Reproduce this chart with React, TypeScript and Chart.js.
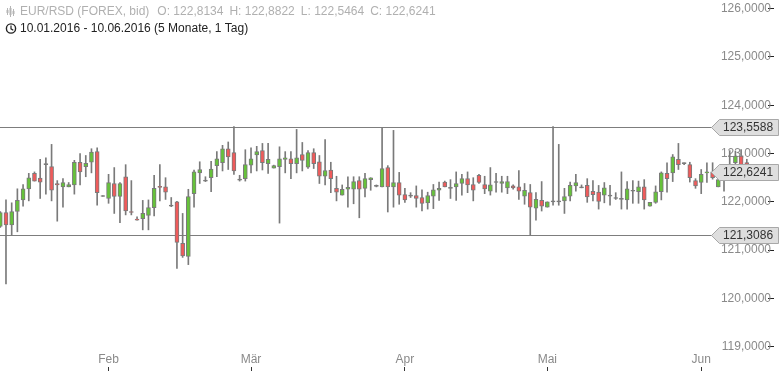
import React, { useEffect, useRef } from 'react';
import { Chart, registerables } from 'chart.js';
Chart.register(...registerables);

// ---- data (EUR/RSD daily candles, Sun–Fri, from 10.01.2016) ----
const START_DATE = '2016-01-10';
const opens = [121.49,121.78,121.52,121.80,122.04,122.27,122.59,122.49,122.77,122.73,122.38,122.31,122.31,122.35,122.82,122.73,122.82,123.04,122.11,122.07,122.38,122.11,122.52,121.80,121.64,121.65,121.72,121.88,122.31,122.31,121.91,122.00,121.14,120.87,122.17,122.60,122.43,122.50,122.75,122.81,123.10,123.02,122.45,122.48,122.76,122.97,123.06,122.79,122.70,122.73,122.88,122.89,122.79,122.98,122.72,123.02,122.83,122.53,122.66,122.28,122.14,122.26,122.26,122.44,122.28,122.46,122.32,122.31,122.71,122.31,122.40,122.15,122.12,122.13,122.09,121.98,122.12,122.24,122.41,122.28,122.31,122.38,122.48,122.36,122.55,122.36,122.22,122.40,122.38,122.29,122.33,122.31,122.12,122.19,121.87,122.03,121.89,122.00,122.00,122.02,122.12,122.33,122.29,122.34,122.22,122.20,122.14,122.12,122.07,122.05,122.04,122.22,122.21,122.31,121.91,121.99,122.21,122.59,122.60,122.88,122.79,122.77,122.44,122.40,122.60,122.62,122.31,122.50,122.60,122.81,122.95,122.8134];
const highs = [121.80,122.04,121.98,122.27,122.36,122.59,122.62,122.88,122.91,123.19,122.44,122.48,122.40,122.86,123.00,122.96,123.10,123.12,122.13,122.57,122.71,122.40,122.77,122.44,121.69,122.03,122.04,122.55,122.77,122.50,122.09,122.01,121.76,122.26,122.66,122.83,122.52,122.84,123.04,123.17,123.24,123.5588,122.55,123.08,123.12,123.15,123.21,123.21,122.76,123.14,123.04,123.04,123.50,123.23,123.06,123.10,122.96,123.29,122.82,122.53,122.35,122.52,122.52,122.52,122.59,122.50,122.35,123.52,122.75,123.48,122.61,122.28,122.19,122.33,122.25,122.20,122.36,122.41,122.43,122.46,122.62,122.57,122.62,122.50,122.57,122.53,122.71,122.59,122.53,122.53,122.35,122.65,122.38,122.36,122.19,122.42,122.00,123.5588,123.19,122.28,122.41,122.57,122.35,122.48,122.44,122.34,122.40,122.34,122.19,122.62,122.42,122.44,122.43,122.46,121.99,122.33,122.62,122.81,122.98,123.21,122.81,122.82,122.48,122.67,122.81,122.81,122.46,122.62,123.06,123.05,123.08,122.8822];
const lows = [121.47,120.30,121.31,121.38,121.91,122.02,122.43,122.07,122.16,122.02,121.60,121.89,122.31,122.16,122.35,122.52,122.60,121.93,122.11,121.97,121.76,121.57,121.73,121.73,121.62,121.42,121.42,121.71,122.02,122.05,121.90,120.62,120.85,120.70,121.89,122.38,122.42,122.21,122.52,122.64,122.67,122.57,122.43,122.43,122.60,122.64,122.66,122.59,122.70,121.56,122.60,122.48,122.60,122.64,122.69,122.69,122.38,122.35,122.19,122.02,122.14,121.89,121.96,121.67,122.10,122.24,122.31,122.31,121.79,121.89,121.95,121.99,122.09,121.89,121.81,121.85,121.86,122.03,122.31,122.07,122.03,122.14,122.19,122.02,122.38,122.17,122.14,122.20,122.20,122.17,122.26,122.05,121.95,121.3086,121.62,121.81,121.89,121.93,121.93,121.76,122.02,122.22,122.29,121.99,122.02,121.85,121.98,121.93,122.05,121.85,121.85,121.97,121.97,121.85,121.91,121.97,122.04,122.20,122.42,122.67,122.77,122.41,122.28,122.17,122.40,122.47,122.31,122.22,122.55,122.75,122.70,122.5464];
const closes = [121.78,121.52,121.80,122.03,122.27,122.50,122.43,122.41,122.77,122.24,122.35,122.40,122.36,122.82,122.62,122.80,123.03,122.19,122.11,122.40,122.11,122.38,121.81,121.78,121.62,121.76,121.88,122.28,122.30,122.20,121.91,121.16,120.88,122.11,122.62,122.67,122.43,122.68,122.89,123.10,122.93,122.64,122.45,122.77,122.89,123.04,122.81,122.88,122.75,122.89,122.91,122.79,122.91,122.86,123.02,122.79,122.53,122.65,122.48,122.20,122.26,122.30,122.42,122.26,122.48,122.50,122.32,122.69,122.31,122.40,122.14,122.04,122.12,122.07,121.97,122.13,122.25,122.28,122.31,122.28,122.38,122.48,122.35,122.24,122.40,122.27,122.35,122.40,122.42,122.42,122.29,122.22,122.24,121.89,122.05,121.91,122.00,122.00,122.00,122.11,122.34,122.40,122.29,122.10,122.15,122.01,122.29,122.12,122.07,122.05,122.27,122.22,122.31,122.04,121.99,122.21,122.60,122.48,122.93,122.77,122.79,122.50,122.33,122.57,122.62,122.50,122.46,122.55,122.75,122.95,122.77,122.6241];
const monthNames = ['Jan', 'Feb', 'Mär', 'Apr', 'Mai', 'Jun'];
const levels = [123.5588, 121.3086];
const titleText = 'EUR/RSD (FOREX, bid)';
const ohlcText = ['O: 122,8134', 'H: 122,8822', 'L: 122,5464', 'C: 122,6241'];
const rangeText = '10.01.2016 - 10.06.2016 (5 Monate, 1 Tag)';
const Y_MIN = 118.58;
const Y_MAX = 126.18;
const X_MIN = -0.05;
const X_MAX = 134.72;

const GREEN = '#66c23a';
const RED = '#ef5b5b';
const EDGE = '#7a7a7a';
const FONT = "'Liberation Sans', Arial, sans-serif";

function buildDates(n: number): Date[] {
  const out: Date[] = [];
  let t = Date.parse(START_DATE + 'T00:00:00Z');
  while (out.length < n) {
    const d = new Date(t);
    if (d.getUTCDay() !== 6) out.push(d);
    t += 86400000;
  }
  return out;
}

const fmt = (v: number) => v.toFixed(4).replace('.', ',');
const noPad = (s: any) => {
  s.paddingTop = 0;
  s.paddingBottom = 0;
  s.paddingLeft = 0;
  s.paddingRight = 0;
};

export default function App() {
  const ref = useRef<HTMLCanvasElement | null>(null);
  useEffect(() => {
    document.body.style.margin = '0';
    const dates = buildDates(opens.length);
    const monthTicks: { value: number; label: string }[] = [];
    for (let i = 1; i < dates.length; i++) {
      if (dates[i].getUTCMonth() !== dates[i - 1].getUTCMonth()) {
        monthTicks.push({ value: i, label: monthNames[dates[i].getUTCMonth()] });
      }
    }
    const bodyColor = (i: number) => {
      const o = opens[i], c = closes[i];
      if (Math.abs(o - c) < 0.005) return EDGE;
      return c > o ? GREEN : RED;
    };

    const overlay = {
      id: 'overlay',
      beforeDatasetsDraw(chart: any) {
        const ctx = chart.ctx;
        const y = chart.scales.y;
        ctx.save();
        ctx.strokeStyle = '#7d7d7d';
        ctx.lineWidth = 1;
        levels.forEach((lv) => {
          const py = Math.round(y.getPixelForValue(lv)) + 0.5;
          ctx.beginPath();
          ctx.moveTo(0, py);
          ctx.lineTo(712, py);
          ctx.stroke();
        });
        ctx.restore();
      },
      afterDatasetsDraw(chart: any) {
        const ctx = chart.ctx;
        const y = chart.scales.y;
        const tags = [...levels, closes[closes.length - 1]];
        ctx.save();
        tags.forEach((lv) => {
          const py = Math.round(y.getPixelForValue(lv)) + 0.5;
          const tip = 711.5, x0 = 719.5, x1 = 778.5, h = 8;
          ctx.beginPath();
          ctx.moveTo(tip, py);
          ctx.lineTo(x0, py - h);
          ctx.lineTo(x1, py - h);
          ctx.lineTo(x1, py + h);
          ctx.lineTo(x0, py + h);
          ctx.closePath();
          ctx.fillStyle = '#dedede';
          ctx.fill();
          ctx.strokeStyle = '#a8a8a8';
          ctx.lineWidth = 1;
          ctx.stroke();
          ctx.fillStyle = '#333333';
          ctx.font = `12px ${FONT}`;
          ctx.textAlign = 'left';
          ctx.textBaseline = 'middle';
          ctx.fillText(fmt(lv), 723, py + 0.5);
        });
        ctx.restore();
      },
      afterDraw(chart: any) {
        const ctx = chart.ctx;
        ctx.save();
        // candlestick icon
        ctx.strokeStyle = '#b5b5b5';
        ctx.fillStyle = '#b5b5b5';
        ctx.lineWidth = 1;
        [[7.5, 8, 15], [10.5, 6, 17], [13.5, 9, 16]].forEach(([x, a, b]) => {
          ctx.beginPath();
          ctx.moveTo(x, a);
          ctx.lineTo(x, b);
          ctx.stroke();
          ctx.fillRect(x - 1, a + 2, 2, (b - a) - 4);
        });
        ctx.font = `12px ${FONT}`;
        ctx.textBaseline = 'middle';
        ctx.textAlign = 'left';
        ctx.fillStyle = '#b0b0b0';
        ctx.fillText(titleText, 20, 12);
        let x = 20 + ctx.measureText(titleText).width + 8;
        ohlcText.forEach((t) => {
          ctx.fillText(t, x, 12);
          x += ctx.measureText(t).width + 6;
        });
        // clock icon
        ctx.strokeStyle = '#222';
        ctx.lineWidth = 1.4;
        ctx.beginPath();
        ctx.arc(11, 28.5, 4.6, 0, Math.PI * 2);
        ctx.stroke();
        ctx.lineWidth = 1.2;
        ctx.beginPath();
        ctx.moveTo(11, 25.5);
        ctx.lineTo(11, 28.8);
        ctx.lineTo(13.3, 30.3);
        ctx.stroke();
        ctx.fillStyle = '#222222';
        ctx.fillText(rangeText, 20, 28.5);
        ctx.restore();
      },
    };

    const chart = new Chart(ref.current as HTMLCanvasElement, {
      type: 'bar',
      data: {
        datasets: [
          {
            label: 'body',
            data: opens.map((o, i) => ({ x: i, y: [o, closes[i]] })) as any,
            backgroundColor: (c: any) => bodyColor(c.dataIndex),
            borderColor: EDGE,
            borderWidth: 1,
            borderSkipped: false,
            barThickness: 4,
            minBarLength: 1,
            grouped: false,
            order: 0,
          },
          {
            label: 'wick',
            data: lows.map((l, i) => ({ x: i, y: [l, highs[i]] })) as any,
            backgroundColor: EDGE,
            borderWidth: 0,
            barThickness: 1,
            grouped: false,
            order: 1,
          },
        ],
      },
      options: {
        animation: false,
        responsive: false,
        events: [],
        layout: { padding: 0 },
        plugins: { legend: { display: false }, tooltip: { enabled: false } },
        scales: {
          x: {
            type: 'linear',
            min: X_MIN,
            max: X_MAX,
            offset: false,
            position: 'bottom',
            afterFit: noPad,
            afterBuildTicks: (s: any) => {
              s.ticks = monthTicks.map((t) => ({ value: t.value }));
            },
            ticks: {
              mirror: true,
              padding: 1,
              autoSkip: false,
              maxRotation: 0,
              includeBounds: false,
              color: '#8a8a8a',
              font: { family: FONT, size: 12, lineHeight: 1 },
              callback: (v: any) => {
                const t = monthTicks.find((m) => m.value === v);
                return t ? t.label : '';
              },
            },
            grid: { drawOnChartArea: false, drawTicks: true, tickLength: 4, tickColor: '#333', offset: false },
            border: { display: false },
          },
          y: {
            type: 'linear',
            position: 'right',
            min: Y_MIN,
            max: Y_MAX,
            afterFit: noPad,
            ticks: {
              stepSize: 1,
              includeBounds: false,
              mirror: true,
              padding: 3,
              color: '#8a8a8a',
              font: { family: FONT, size: 12 },
              callback: (v: any) => fmt(Number(v)),
            },
            grid: { drawOnChartArea: false, drawTicks: true, tickLength: 6, tickColor: '#222' },
            border: { display: false },
          },
        },
      } as any,
      plugins: [overlay],
    });
    return () => chart.destroy();
  }, []);
  return (
    <div style={{ position: 'fixed', left: 0, top: 0, width: 780, height: 373, background: '#fff' }}>
      <canvas ref={ref} width={780} height={373} style={{ display: 'block' }} />
    </div>
  );
}
